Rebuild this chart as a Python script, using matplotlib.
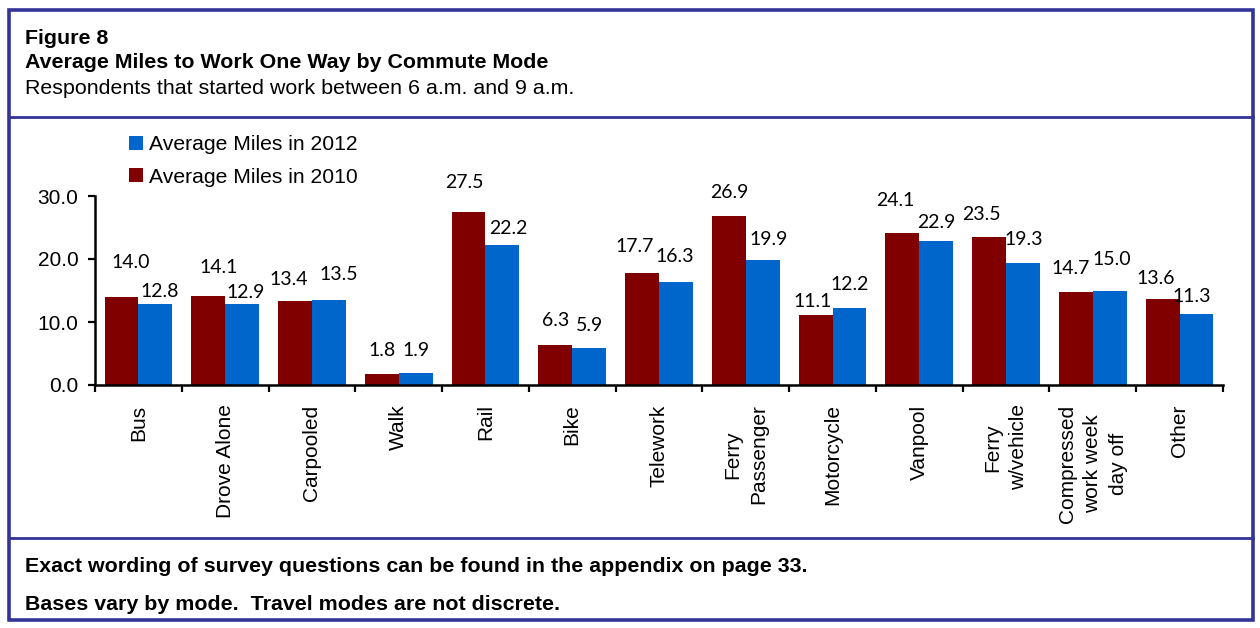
import numpy as np
import matplotlib
matplotlib.use('Agg')
import matplotlib.pyplot as plt
from matplotlib.patches import Rectangle
from matplotlib.lines import Line2D

plt.rcParams['font.family'] = ['Liberation Sans', 'DejaVu Sans']

# 通勤方式与两年的平均单程里程
modes = ['Bus', 'Drove Alone', 'Carpooled', 'Walk', 'Rail', 'Bike', 'Telework',
         'Ferry\nPassenger', 'Motorcycle', 'Vanpool', 'Ferry\nw/vehicle',
         'Compressed\nwork week\nday off', 'Other']
miles_2010 = [14.0, 14.1, 13.4, 1.8, 27.5, 6.3, 17.7, 26.9, 11.1, 24.1, 23.5, 14.7, 13.6]
miles_2012 = [12.8, 12.9, 13.5, 1.9, 22.2, 5.9, 16.3, 19.9, 12.2, 22.9, 19.3, 15.0, 11.3]
yticks = [0, 10, 20, 30]

# 数据标签中心相对柱顶的偏移(像素)
off_2010 = [(9.5, 36), (10, 30.5), (-6.5, 23), (0, 25), (-4.5, 30.5), (0.5, 26), (-7, 28),
            (0, 25), (-3, 15), (-7.5, 34), (-7.5, 24), (-5.5, 25.5), (-7, 22)]
off_2012 = [(4, 14), (4, 13), (10, 27), (0, 24.5), (6, 18), (0, 24), (-1, 27),
            (6, 22), (0, 25), (0, 20), (0.5, 25), (2, 32.5), (-4.5, 18.5)]

c2010 = '#800000'
c2012 = '#0066CC'
frame = '#333399'
W, H = 1260, 628

fig = plt.figure(figsize=(12.6, 6.28), dpi=100)

# 外框和分隔线
fig.add_artist(Rectangle((9 / W, 1 - 620 / H), (1253 - 9) / W, (620 - 10) / H,
                         transform=fig.transFigure, fill=False,
                         edgecolor=frame, linewidth=2.6))
for yy in (117, 538):
    fig.add_artist(Line2D([9 / W, 1253 / W], [1 - yy / H, 1 - yy / H],
                          transform=fig.transFigure, color=frame, linewidth=2.0))

fig.text(25 / W, 1 - 38 / H, 'Figure 8', fontsize=15.4, fontweight='bold', va='center')
fig.text(25 / W, 1 - 63 / H, 'Average Miles to Work One Way by Commute Mode',
         fontsize=15.4, fontweight='bold', va='center')
fig.text(25 / W, 1 - 88 / H, 'Respondents that started work between 6 a.m. and 9 a.m.',
         fontsize=15.4, va='center')
fig.text(25 / W, 1 - 567 / H,
         'Exact wording of survey questions can be found in the appendix on page 33.',
         fontsize=15.4, fontweight='bold', va='center')
fig.text(25 / W, 1 - 605 / H, 'Bases vary by mode.  Travel modes are not discrete.',
         fontsize=15.4, fontweight='bold', va='center')

ax = fig.add_axes([95 / W, 1 - 385 / H, (1223 - 95) / W, (385 - 196) / H])

x = np.arange(len(modes)) + 0.5
bw = 0.39
b10 = ax.bar(x - bw / 2, miles_2010, bw, color=c2010, label='Average Miles in 2010')
b12 = ax.bar(x + bw / 2, miles_2012, bw, color=c2012, label='Average Miles in 2012')

# 数字高约14像素, 以基线定位
for xs, vals, offs in ((x - bw / 2, miles_2010, off_2010), (x + bw / 2, miles_2012, off_2012)):
    for xi, v, (dx, dy) in zip(xs, vals, offs):
        ax.annotate(f'{v:.1f}', (xi, v), xytext=(dx, dy - 7), textcoords='offset pixels',
                    ha='center', va='baseline', fontsize=14, family='Lato')

ax.set_xlim(0, len(modes))
ax.set_ylim(0, 30)
ax.set_yticks(yticks)
ax.set_yticklabels([f'{t:.1f}' for t in yticks])
ax.set_xticks(np.arange(len(modes) + 1))
ax.set_xticklabels([])
ax.set_xticks(x, minor=True)
ax.set_xticklabels(modes, minor=True, rotation=90, va='top', ha='center',
                   multialignment='center', linespacing=1.45)
ax.tick_params(axis='x', which='minor', length=0, pad=14, labelsize=15)
ax.tick_params(axis='x', which='major', direction='out', length=5, width=1.6)
ax.tick_params(axis='y', direction='out', length=5, width=1.6, pad=7, labelsize=15)
for s in ('top', 'right'):
    ax.spines[s].set_visible(False)
for s in ('left', 'bottom'):
    ax.spines[s].set_linewidth(1.8)

fig.legend(handles=[b12, b10], loc='upper left', bbox_to_anchor=(129 / W, 1 - 135 / H),
           frameon=False, fontsize=15.2, handlelength=0.65, handleheight=0.65,
           handletextpad=0.3, labelspacing=0.65, borderpad=0, borderaxespad=0)

fig.savefig('out.png', dpi=100)
